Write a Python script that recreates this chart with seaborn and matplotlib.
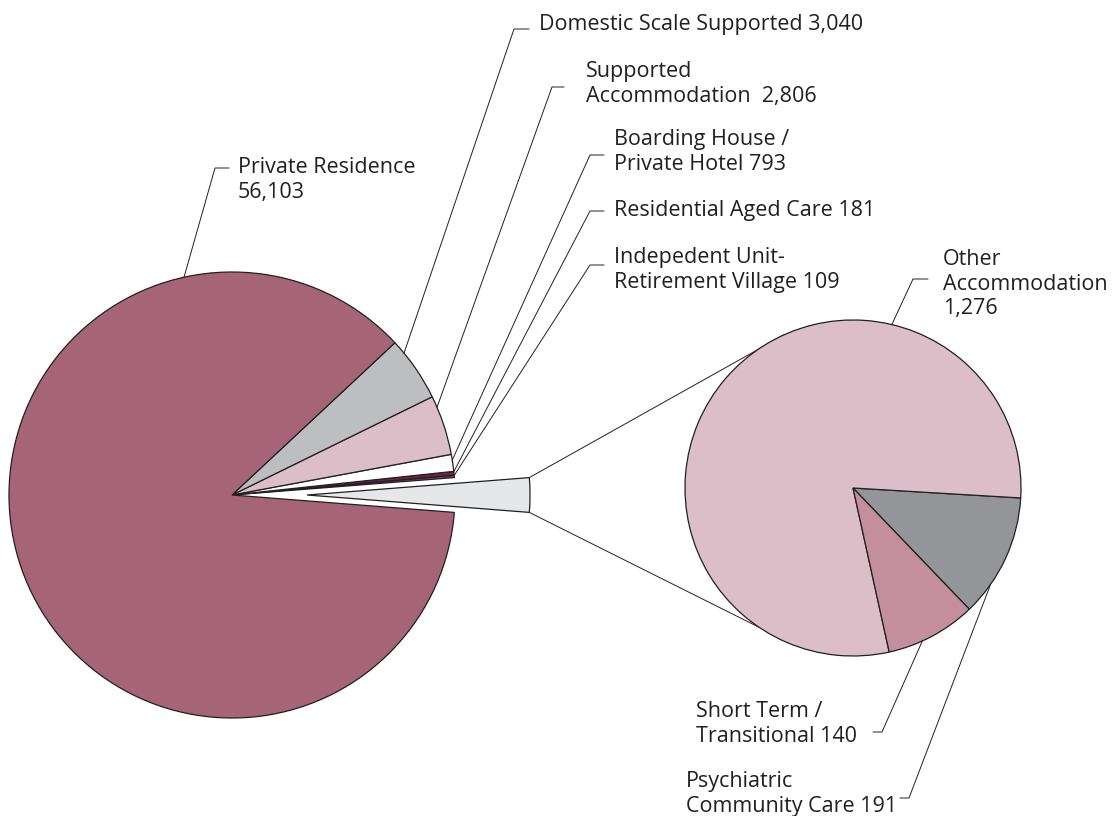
import numpy as np
import matplotlib
matplotlib.use('Agg')
import matplotlib.pyplot as plt
import seaborn as sns

# ---- data ----
main_labels = ['Private Residence', 'Domestic Scale Supported', 'Supported Accommodation',
               'Boarding House / Private Hotel', 'Residential Aged Care',
               'Indepedent Unit-Retirement Village']
main_values = [56103, 3040, 2806, 793, 181, 109]
other_labels = ['Other Accommodation', 'Short Term / Transitional', 'Psychiatric Community Care']
other_values = [1276, 140, 191]

# label text as printed (line breaks)
main_text = ['Private Residence\n{}', 'Domestic Scale Supported {}', 'Supported\nAccommodation  {}',
             'Boarding House /\nPrivate Hotel {}', 'Residential Aged Care {}',
             'Indepedent Unit-\nRetirement Village {}']
other_text = ['Other\nAccommodation\n{}', 'Short Term /\nTransitional {}', 'Psychiatric\nCommunity Care {}']

main_colors = ['#a66479', '#bcbec0', '#dcbec8', '#ffffff', '#7b1c48', '#58595b']
other_main_color = '#e6e7e8'
other_colors = ['#dcbec8', '#c38e9e', '#939598']

# ---- layout (pixel coords, y down) ----
W, H = 1117, 816
EDGE = '#231f20'
main_center, main_r = (232, 495), 223
sec_center, sec_r = (853, 488), 168
explode_px = 75

# text left x, text top y, elbow x, elbow y, tick dx, anchor fraction in wedge
main_lab = [(238, 157, 215, 168, 14, 0.19),
            (539, 14, 514, 29, 15, 0.79),
            (586, 61, 552, 87, 12, 0.81),
            (614, 129, 590, 155, 14, 0.66),
            (614, 200, 590, 211, 14, 0.9),
            (614, 247, 590, 265, 14, 0.9)]
other_lab = [(943, 249, 913, 279, 15, 0.28),
             (696, 701, 882, 732, -9, 0.38),
             (686, 771, 909, 798, -9, 0.26)]
conn_angles = (114, -124)

sns.set_style('white')
plt.rcParams['font.family'] = ['Open Sans', 'DejaVu Sans']

fig = plt.figure(figsize=(W / 100, H / 100), dpi=100)
ax = fig.add_axes([0, 0, 1, 1])


def P(x, y):
    return (x, H - y)


# main pie: counterclockwise from "Other" (exploded, centred on 0 deg)
other_total = sum(other_values)
total = sum(main_values) + other_total
vals = [other_total] + main_values[::-1]
cols = [other_main_color] + main_colors[::-1]
start = -other_total / total * 360 / 2
wedges, _ = ax.pie(vals, colors=cols, startangle=start, counterclock=True,
                   explode=[explode_px] + [0] * len(main_values),
                   center=P(*main_center), radius=main_r, frame=True,
                   wedgeprops=dict(edgecolor=EDGE, linewidth=0.9))
other_wedge = wedges[0]
main_wedges = wedges[1:][::-1]

# secondary pie: Psychiatric, Other Acc, Short Term counterclockwise
sec_order = [2, 0, 1]
sec_vals = [other_values[i] for i in sec_order]
sec_cols = [other_colors[i] for i in sec_order]
sec_start = -3.4 - other_values[2] / other_total * 360
sw, _ = ax.pie(sec_vals, colors=sec_cols, startangle=sec_start, counterclock=True,
               center=P(*sec_center), radius=sec_r, frame=True,
               wedgeprops=dict(edgecolor=EDGE, linewidth=0.9))
sec_wedges = [None] * 3
for k, i in enumerate(sec_order):
    sec_wedges[i] = sw[k]


def edge_pt(w, frac):
    a = np.deg2rad(w.theta1 + frac * (w.theta2 - w.theta1))
    cx, cy = w.center
    return cx + w.r * np.cos(a), cy + w.r * np.sin(a)


# connector lines from exploded slice to secondary pie
cx, cy = other_wedge.center
scx, scy = P(*sec_center)
for th, ang in zip((other_wedge.theta2, other_wedge.theta1), conn_angles):
    a, b = np.deg2rad(th), np.deg2rad(ang)
    ax.plot([cx + main_r * np.cos(a), scx + sec_r * np.cos(b)],
            [cy + main_r * np.sin(a), scy + sec_r * np.sin(b)],
            color=EDGE, lw=0.7, zorder=0.5)


def label(w, txt, lay):
    tx, ty, ex, ey, tdx, frac = lay
    axp = edge_pt(w, frac)
    e = P(ex, ey)
    ax.plot([axp[0], e[0], e[0] + tdx], [axp[1], e[1], e[1]], color=EDGE, lw=0.7)
    ax.text(*P(tx, ty), txt, ha='left', va='top', fontsize=15.5, color=EDGE,
            linespacing=1.22)


for w, t, v, lay in zip(main_wedges, main_text, main_values, main_lab):
    label(w, t.format(f'{v:,}'), lay)
for w, t, v, lay in zip(sec_wedges, other_text, other_values, other_lab):
    label(w, t.format(f'{v:,}'), lay)

ax.set_xlim(0, W)
ax.set_ylim(0, H)
ax.set_aspect('equal')
ax.axis('off')
fig.savefig('out.png', dpi=100)
